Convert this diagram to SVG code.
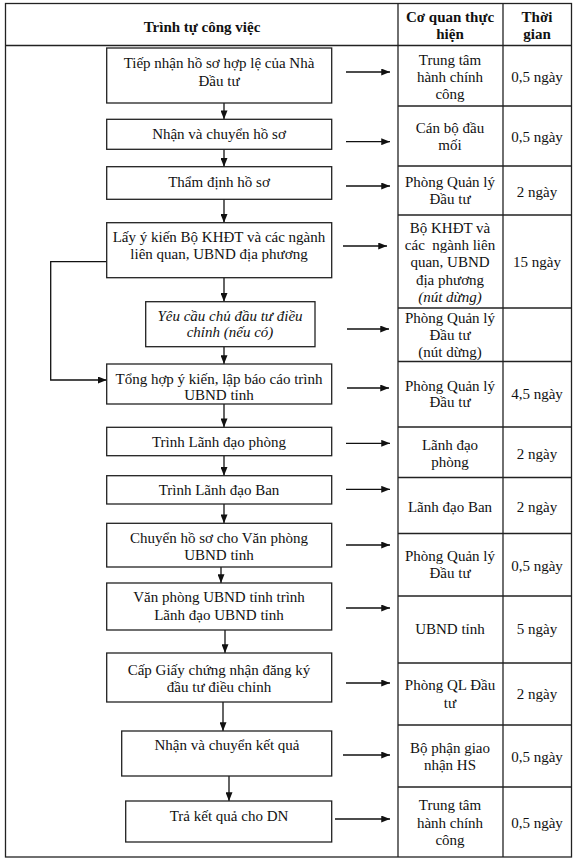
<svg xmlns="http://www.w3.org/2000/svg" width="576" height="861" viewBox="0 0 576 861">
<defs>
<marker id="ah" viewBox="0 0 10 8" refX="10" refY="4" markerWidth="9" markerHeight="7" markerUnits="userSpaceOnUse" orient="auto">
<path d="M0,0 L10,4 L0,8 z" fill="#111"/>
</marker>
<style>
text{font-family:"Liberation Serif","Times New Roman",serif;font-size:15px;fill:#111;text-anchor:middle}
.b{font-weight:bold}
.i{font-style:italic}
.tl{stroke:#222;stroke-width:1.3;fill:none}
.box{fill:#fff;stroke:#222;stroke-width:1.3}
.c{stroke:#111;stroke-width:1.3;fill:none;marker-end:url(#ah)}
</style>
</defs>
<rect x="0" y="0" width="576" height="861" fill="#fff"/>
<g id="table">
<rect class="tl" x="5.5" y="3.5" width="566" height="853.5"/>
<line class="tl" x1="398" y1="3.5" x2="398" y2="857"/>
<line class="tl" x1="503" y1="3.5" x2="503" y2="857"/>
<line class="tl" x1="5.5" y1="45.5" x2="571.5" y2="45.5"/>
<line class="tl" x1="398" y1="106" x2="571.5" y2="106"/>
<line class="tl" x1="398" y1="166" x2="571.5" y2="166"/>
<line class="tl" x1="398" y1="215" x2="571.5" y2="215"/>
<line class="tl" x1="398" y1="308" x2="571.5" y2="308"/>
<line class="tl" x1="398" y1="361.5" x2="571.5" y2="361.5"/>
<line class="tl" x1="398" y1="427" x2="571.5" y2="427"/>
<line class="tl" x1="398" y1="477.5" x2="571.5" y2="477.5"/>
<line class="tl" x1="398" y1="533.5" x2="571.5" y2="533.5"/>
<line class="tl" x1="398" y1="596" x2="571.5" y2="596"/>
<line class="tl" x1="398" y1="663" x2="571.5" y2="663"/>
<line class="tl" x1="398" y1="725" x2="571.5" y2="725"/>
<line class="tl" x1="398" y1="787" x2="571.5" y2="787"/>
<text class="b" x="202" y="32">Trình tự công việc</text>
<text class="b" x="450" y="22">Cơ quan thực</text>
<text class="b" x="450" y="38.5">hiện</text>
<text class="b" x="537" y="22">Thời</text>
<text class="b" x="537" y="38.5">gian</text>
<text x="450" y="65">Trung tâm</text><text x="450" y="82">hành chính</text><text x="450" y="99">công</text><text x="537" y="82">0,5 ngày</text>
<text x="450" y="133">Cán bộ đầu</text><text x="450" y="150">mối</text><text x="537" y="142">0,5 ngày</text>
<text x="450" y="187">Phòng Quản lý</text><text x="450" y="204">Đầu tư</text><text x="537" y="197">2 ngày</text>
<text x="450" y="233">Bộ KHĐT và</text><text x="450" y="250" xml:space="preserve">các  ngành liên</text><text x="450" y="267">quan, UBND</text><text x="450" y="285">địa phương</text><text class="i" x="450" y="302">(nút dừng)</text><text x="537" y="267">15 ngày</text>
<text x="450" y="323">Phòng Quản lý</text><text x="450" y="340">Đầu tư</text><text x="450" y="357">(nút dừng)</text>
<text x="450" y="391">Phòng Quản lý</text><text x="450" y="407">Đầu tư</text><text x="537" y="399">4,5 ngày</text>
<text x="450" y="450">Lãnh đạo</text><text x="450" y="467">phòng</text><text x="537" y="459">2 ngày</text>
<text x="450" y="512">Lãnh đạo Ban</text><text x="537" y="512">2 ngày</text>
<text x="450" y="561">Phòng Quản lý</text><text x="450" y="578">Đầu tư</text><text x="537" y="571">0,5 ngày</text>
<text x="450" y="634">UBND tỉnh</text><text x="537" y="634">5 ngày</text>
<text x="450" y="690">Phòng QL Đầu</text><text x="450" y="708">tư</text><text x="537" y="699">2 ngày</text>
<text x="450" y="753">Bộ phận giao</text><text x="450" y="770">nhận HS</text><text x="537" y="762">0,5 ngày</text>
<text x="450" y="810">Trung tâm</text><text x="450" y="828">hành chính</text><text x="450" y="845">công</text><text x="537" y="828">0,5 ngày</text>
</g>
<g id="connectors">
<path class="c" d="M224,103 V119.3"/>
<path class="c" d="M224,149.3 V166.7"/>
<path class="c" d="M224,199.3 V222.7"/>
<path class="c" d="M224,277.7 V301.7"/>
<path class="c" d="M224,346.7 V364"/>
<path class="c" d="M224,404 V427.3"/>
<path class="c" d="M224,455.7 V475.7"/>
<path class="c" d="M224,504 V523.3"/>
<path class="c" d="M221,567 V583"/>
<path class="c" d="M225,630 V653"/>
<path class="c" d="M223,702 V731"/>
<path class="c" d="M229,776 V801"/>
<path class="c" d="M106.7,261.7 H50.7 V380 H106.7"/>
<path class="c" d="M346,72 H390"/>
<path class="c" d="M346,141.7 H390"/>
<path class="c" d="M346,186 H390"/>
<path class="c" d="M343,246 H387"/>
<path class="c" d="M347,329 H389"/>
<path class="c" d="M347,388 H389"/>
<path class="c" d="M346,443.3 H390"/>
<path class="c" d="M346,489.3 H390"/>
<path class="c" d="M346,545 H390"/>
<path class="c" d="M346,608 H390"/>
<path class="c" d="M346,683 H390"/>
<path class="c" d="M343,755 H390"/>
<path class="c" d="M335,819 H390"/>
</g>
<g id="n1"><rect class="box" x="106.7" y="48" width="225" height="55"/><text x="219" y="68">Tiếp nhận hồ sơ hợp lệ của Nhà</text><text x="219" y="86">Đầu tư</text></g>
<g id="n2"><rect class="box" x="106.7" y="119.3" width="225" height="30"/><text x="219" y="138.5">Nhận và chuyển hồ sơ</text></g>
<g id="n3"><rect class="box" x="106.7" y="166.7" width="225" height="32.6"/><text x="219" y="187">Thẩm định hồ sơ</text></g>
<g id="n4"><rect class="box" x="106.7" y="222.7" width="225" height="55"/><text x="219" y="242">Lấy ý kiến Bộ KHĐT và các ngành</text><text x="219" y="259">liên quan, UBND địa phương</text></g>
<g id="n5"><rect class="box" x="145.7" y="301.7" width="169.3" height="45"/><text class="i" x="230" y="321">Yêu cầu chủ đầu tư điều</text><text class="i" x="230" y="337">chỉnh (nếu có)</text></g>
<g id="n6"><rect class="box" x="106.7" y="364" width="225" height="40"/><text x="219" y="384">Tổng hợp ý kiến, lập báo cáo trình</text><text x="219" y="400">UBND tỉnh</text></g>
<g id="n7"><rect class="box" x="106.7" y="427.3" width="225" height="28.4"/><text x="219" y="447">Trình Lãnh đạo phòng</text></g>
<g id="n8"><rect class="box" x="106.7" y="475.7" width="225" height="28.3"/><text x="219" y="494.5">Trình Lãnh đạo Ban</text></g>
<g id="n9"><rect class="box" x="106.7" y="523.3" width="225" height="43.7"/><text x="219" y="543">Chuyển hồ sơ cho Văn phòng</text><text x="219" y="560">UBND tỉnh</text></g>
<g id="n10"><rect class="box" x="106.7" y="583" width="225" height="47"/><text x="219" y="602">Văn phòng UBND tỉnh trình</text><text x="219" y="620">Lãnh đạo UBND tỉnh</text></g>
<g id="n11"><rect class="box" x="106.7" y="653" width="225" height="49"/><text x="219" y="675">Cấp Giấy chứng nhận đăng ký</text><text x="219" y="692">đầu tư điều chỉnh</text></g>
<g id="n12"><rect class="box" x="121.7" y="731" width="210" height="45"/><text x="227" y="750">Nhận và chuyển kết quả</text></g>
<g id="n13"><rect class="box" x="125.7" y="801" width="206" height="41"/><text x="229" y="821">Trả kết quả cho DN</text></g>
</svg>
